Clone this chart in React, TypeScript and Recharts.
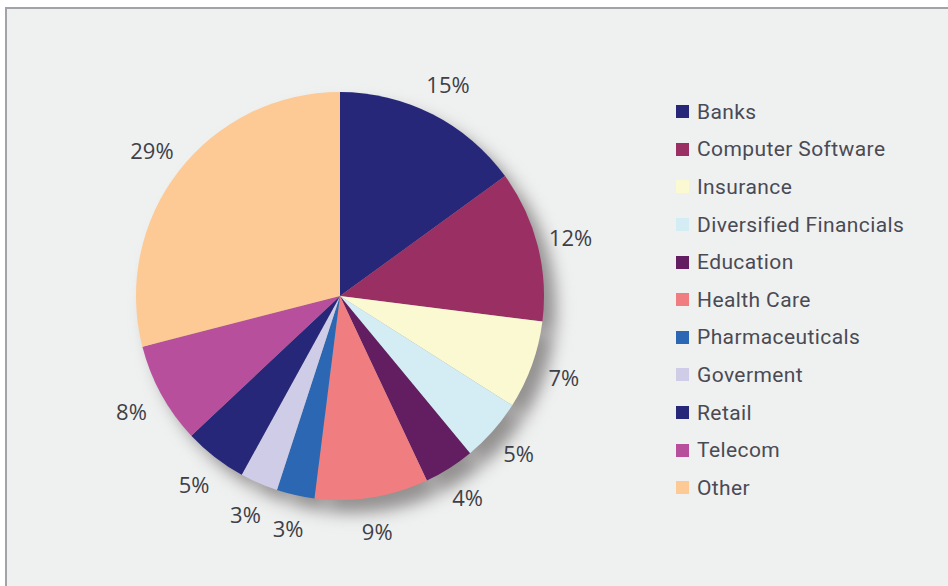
import React from "react";
import { PieChart, Pie, Cell, Legend } from "recharts";

const industries = [
  "Banks",
  "Computer Software",
  "Insurance",
  "Diversified Financials",
  "Education",
  "Health Care",
  "Pharmaceuticals",
  "Goverment",
  "Retail",
  "Telecom",
  "Other",
];
const shares = [15, 12, 7, 5, 4, 9, 3, 3, 5, 8, 29];
const colors = [
  "#27277a",
  "#9a2f63",
  "#fbf9d2",
  "#d4ecf3",
  "#621e60",
  "#f07d80",
  "#2b67b2",
  "#cfcce7",
  "#27277a",
  "#b74f9c",
  "#fdc995",
];

const data = industries.map((name, i) => ({ name, value: shares[i] }));

const RADIAN = Math.PI / 180;

const renderLabel = (props: any) => {
  const { cx, cy, midAngle, outerRadius, value } = props;
  const r = outerRadius + 34;
  const x = cx + r * Math.cos(-midAngle * RADIAN);
  const y = cy + r * Math.sin(-midAngle * RADIAN);
  return (
    <text
      x={x}
      y={y}
      fill="#3f3f47"
      fontSize={22}
      fontFamily="'Open Sans', sans-serif"
      textAnchor="middle"
      dominantBaseline="central"
    >
      {`${value}%`}
    </text>
  );
};

// legend is built from our own arrays so the shadow pie stays out of it
const renderLegend = () => (
  <div>
    {industries.map((name, i) => (
      <div key={name} style={{ display: "flex", alignItems: "center", height: 37.6 }}>
        <span
          style={{
            width: 13,
            height: 13,
            background: colors[i],
            display: "inline-block",
            marginRight: 8,
          }}
        />
        <span
          style={{
            fontFamily: "Roboto, sans-serif",
            fontSize: 21,
            color: "#4a4a55",
            letterSpacing: 0.4,
            lineHeight: "24px",
          }}
        >
          {name}
        </span>
      </div>
    ))}
  </div>
);

const App: React.FC = () => {
  return (
    <div
      style={{
        position: "fixed",
        left: 0,
        top: 0,
        width: 948,
        height: 586,
        overflow: "hidden",
        background: "#ffffff",
      }}
    >
      <style>{`.shadow-pie { filter: blur(6px); }`}</style>
      <div
        style={{
          position: "absolute",
          left: 5,
          top: 7,
          width: 960,
          height: 600,
          background: "#eff1f0",
          borderLeft: "2px solid #a2a3a8",
          borderTop: "2px solid #a2a3a8",
        }}
      />
      <div style={{ position: "absolute", left: 0, top: 0 }}>
        <PieChart width={948} height={586} margin={{ top: 0, right: 0, bottom: 0, left: 0 }}>
          <Pie
            className="shadow-pie"
            data={data}
            dataKey="value"
            nameKey="name"
            cx={352}
            cy={309}
            outerRadius={204}
            startAngle={90}
            endAngle={-270}
            stroke="none"
            legendType="none"
            isAnimationActive={false}
          >
            {data.map((d) => (
              <Cell key={d.name} fill="#939090" />
            ))}
          </Pie>
          <Pie
            data={data}
            dataKey="value"
            nameKey="name"
            cx={340}
            cy={296}
            outerRadius={204}
            startAngle={90}
            endAngle={-270}
            stroke="none"
            label={renderLabel}
            labelLine={false}
            isAnimationActive={false}
          >
            {data.map((d, i) => (
              <Cell key={d.name} fill={colors[i]} />
            ))}
          </Pie>
          <Legend
            layout="vertical"
            content={renderLegend}
            wrapperStyle={{ position: "absolute", left: 676, top: 93, width: 270 }}
          />
        </PieChart>
      </div>
    </div>
  );
};

export default App;
